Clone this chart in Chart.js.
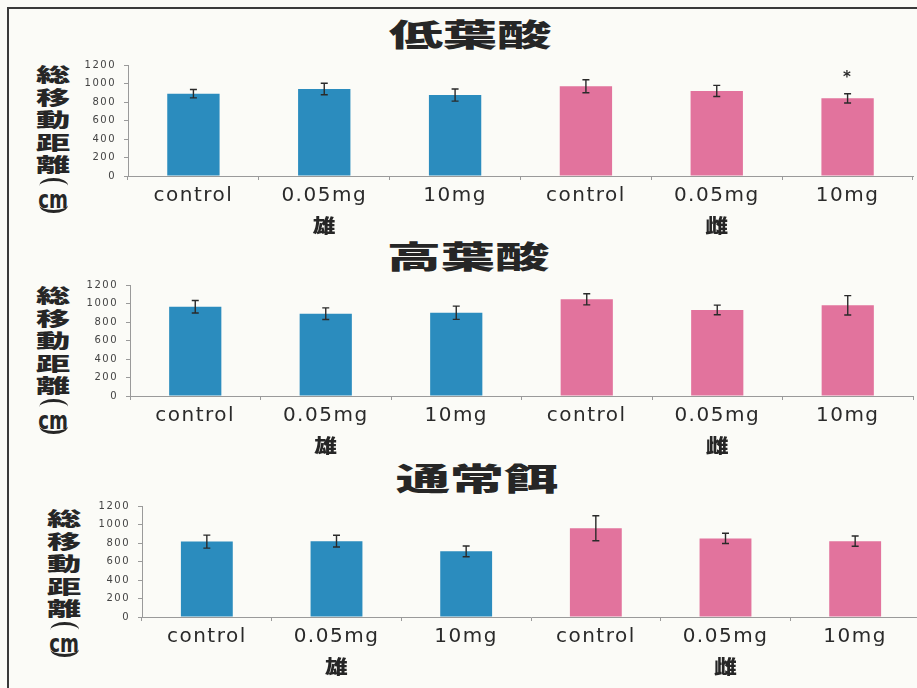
<!DOCTYPE html>
<html>
<head>
<meta charset="utf-8">
<script src="https://cdn.jsdelivr.net/npm/chart.js@4"></script>
<style>
  html, body { margin: 0; padding: 0; }
  body { width: 917px; height: 688px; overflow: hidden; background: #fbfbf7; position: relative; }
  #frame { position: absolute; left: 7px; top: 7px; width: 940px; height: 700px;
           border-top: 2px solid #3a3a3a; border-left: 2px solid #3a3a3a; }
  .panel { position: absolute; left: 0; width: 925px; height: 195px; }
  .title { position: absolute; font: 900 31px "Noto Sans CJK JP"; color: #262626; white-space: nowrap;
           line-height: 1; transform: translate(-50%, -50%) scaleX(1.75); }
  .ylab { position: absolute; display: flex; flex-direction: column; align-items: center;
          font: 900 19px "Noto Sans CJK JP"; color: #262626; transform: translateX(-50%) scaleX(1.8);
          transform-origin: center top; }
  .ylab span { display: block; line-height: 22.5px; height: 22.5px; text-align: center; }
  .ylab .arc { width: 16px; height: 8px; box-sizing: border-box; border-top: 3px solid #262626;
               border-radius: 50% / 100% 100% 0 0; margin-top: 2px; }
  .ylab .arc.close { transform: scaleY(-1); margin-top: 1px; }
  .ylab span.u { line-height: 18px; height: 18px; font: bold 24px "DejaVu Sans"; }
  .ylab span.u i { display: inline-block; font-style: normal; transform: scaleX(0.42); }
</style>
</head>
<body>
<div id="frame"></div>

<div class="title" style="left:470px; top:32px">低葉酸</div>
<div class="title" style="left:468px; top:254px">高葉酸</div>
<div class="title" style="left:477px; top:476px">通常餌</div>

<div class="ylab" style="left:53px; top:63px"><span>総</span><span>移</span><span>動</span><span>距</span><span>離</span><div class="arc"></div><span class="u"><i>cm</i></span><div class="arc close"></div></div>
<div class="ylab" style="left:53px; top:284px"><span>総</span><span>移</span><span>動</span><span>距</span><span>離</span><div class="arc"></div><span class="u"><i>cm</i></span><div class="arc close"></div></div>
<div class="ylab" style="left:64px; top:507px"><span>総</span><span>移</span><span>動</span><span>距</span><span>離</span><div class="arc"></div><span class="u"><i>cm</i></span><div class="arc close"></div></div>

<div class="panel" style="top:51px"><canvas id="lowChart"></canvas></div>
<div class="panel" style="top:271px"><canvas id="highChart"></canvas></div>
<div class="panel" style="top:492px"><canvas id="normalChart"></canvas></div>

<script>
// groups and categories shared by all three panels
var categories = ['control', '0.05mg', '10mg', 'control', '0.05mg', '10mg'];
var groups = ['雄', '雌'];
var groupSize = 3;

// 低葉酸
var lowMeans = [890, 940, 875, 970, 920, 840];
var lowErrors = [45, 62, 65, 70, 60, 50];
var lowMarks = ['', '', '', '', '', '*'];

// 高葉酸
var highMeans = [965, 890, 900, 1045, 930, 980];
var highErrors = [68, 63, 72, 60, 52, 105];
var highMarks = ['', '', '', '', '', ''];

// 通常餌
var normalMeans = [815, 820, 710, 960, 850, 820];
var normalErrors = [70, 64, 58, 135, 55, 55];
var normalMarks = ['', '', '', '', '', ''];

var yMax = 1200;
var yStep = 200;

var maleColor = '#2b8cbe';
var femaleColor = '#e2739d';
var axisColor = '#9a9a9a';

// wide lettering for the axis text (canvas state is reset on resize)
var wideText = {
    id: 'wideText',
    beforeDraw: function (chart) {
        chart.ctx.letterSpacing = '1.5px';
    }
};

// SD whiskers plus significance marks above them
var errorBars = {
    id: 'errorBars',
    afterDatasetsDraw: function (chart) {
        var ctx = chart.ctx;
        var y = chart.scales.y;
        var ds = chart.data.datasets[0];
        var meta = chart.getDatasetMeta(0);
        ctx.save();
        ctx.strokeStyle = '#2a2a2a';
        ctx.lineWidth = 1.4;
        meta.data.forEach(function (bar, i) {
            var top = y.getPixelForValue(ds.data[i] + ds.errors[i]);
            var bot = y.getPixelForValue(ds.data[i] - ds.errors[i]);
            ctx.beginPath();
            ctx.moveTo(bar.x, top); ctx.lineTo(bar.x, bot);
            ctx.moveTo(bar.x - 3.5, top); ctx.lineTo(bar.x + 3.5, top);
            ctx.moveTo(bar.x - 3.5, bot); ctx.lineTo(bar.x + 3.5, bot);
            ctx.stroke();
            if (ds.marks[i]) {
                ctx.fillStyle = '#2a2a2a';
                ctx.font = 'bold 15px "DejaVu Sans"';
                ctx.textAlign = 'center';
                ctx.textBaseline = 'middle';
                ctx.fillText(ds.marks[i], bar.x, top - 16);
            }
        });
        ctx.restore();
    }
};

// 雄 / 雌 under the middle category of each group
var groupLabels = {
    id: 'groupLabels',
    afterDraw: function (chart) {
        var ctx = chart.ctx;
        var x = chart.scales.x;
        ctx.save();
        ctx.letterSpacing = '0px';
        ctx.fillStyle = '#262626';
        ctx.font = '900 19px "Noto Sans CJK JP"';
        ctx.textAlign = 'center';
        ctx.textBaseline = 'middle';
        groups.forEach(function (g, k) {
            var cx = x.getPixelForValue(k * groupSize + (groupSize - 1) / 2);
            var cy = chart.chartArea.bottom + 50;
            ctx.save();
            ctx.translate(cx, cy);
            ctx.scale(1.2, 1);
            ctx.fillText(g, 0, 0);
            ctx.restore();
        });
        ctx.restore();
    }
};

function makeChart(id, means, errors, marks, plotLeft, padRight) {
    new Chart(document.getElementById(id), {
        type: 'bar',
        data: {
            labels: categories,
            datasets: [{
                data: means,
                errors: errors,
                marks: marks,
                backgroundColor: categories.map(function (c, i) {
                    return i < groupSize ? maleColor : femaleColor;
                }),
                borderWidth: 0,
                categoryPercentage: 1,
                barPercentage: 0.4
            }]
        },
        options: {
            responsive: true,
            maintainAspectRatio: false,
            animation: false,
            events: [],
            layout: { padding: { top: 10, bottom: 40, left: 0, right: padRight } },
            plugins: { legend: { display: false }, tooltip: { enabled: false } },
            scales: {
                x: {
                    afterFit: function (s) { s.height = 30; },
                    border: { display: true, color: axisColor, width: 1 },
                    grid: { display: true, offset: true, drawOnChartArea: false, tickLength: 4, color: axisColor },
                    ticks: { color: '#2a2a2a', padding: 4, font: { family: 'DejaVu Sans', size: 20 } }
                },
                y: {
                    min: 0,
                    max: yMax,
                    afterFit: function (s) { s.width = plotLeft; },
                    border: { display: true, color: axisColor, width: 1 },
                    grid: { display: true, drawOnChartArea: false, tickLength: 4, color: axisColor },
                    ticks: {
                        stepSize: yStep,
                        color: '#444',
                        padding: 8,
                        font: { family: 'DejaVu Sans', size: 10 },
                        callback: function (v) { return String(v); }
                    }
                }
            }
        },
        plugins: [wideText, errorBars, groupLabels]
    });
}

makeChart('lowChart', lowMeans, lowErrors, lowMarks, 128, 12);
makeChart('highChart', highMeans, highErrors, highMarks, 130, 12);
makeChart('normalChart', normalMeans, normalErrors, normalMarks, 142, 5);
</script>
</body>
</html>
